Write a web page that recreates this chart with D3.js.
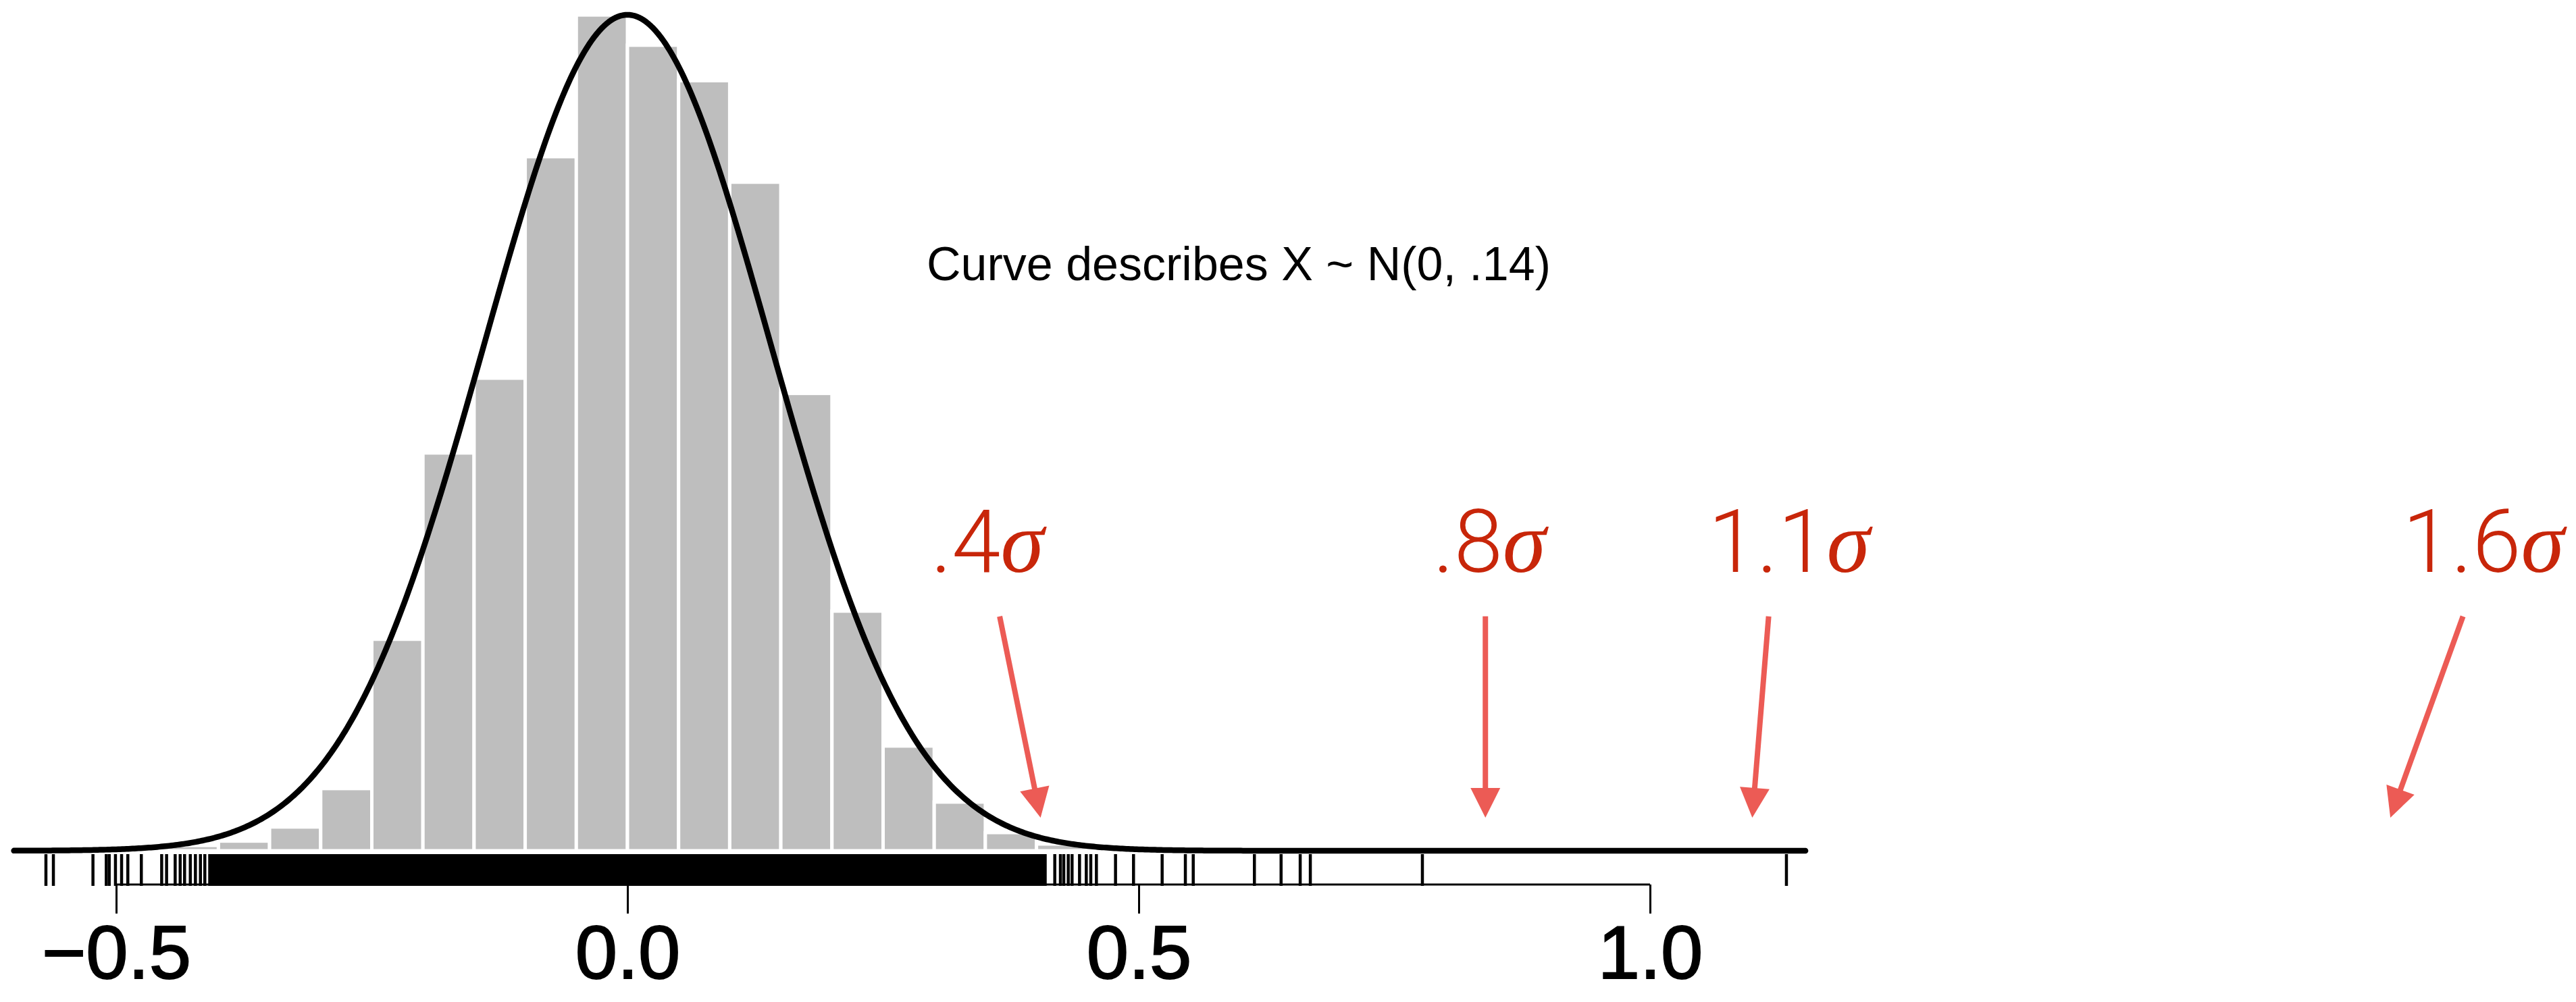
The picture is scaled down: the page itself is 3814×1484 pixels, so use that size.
<!DOCTYPE html>
<html>
<head>
<meta charset="utf-8">
<script src="https://cdn.jsdelivr.net/npm/d3@7"></script>
<style>
    body { margin: 0; background: #fff; }
    svg { display: block; }
</style>
</head>
<body>
<div id="chart" style="width:3814px;height:1484px"></div>
<script>

// histogram: left edge of each 0.05 bin and its density
const binStarts = [-0.45, -0.40, -0.35, -0.30, -0.25, -0.20, -0.15, -0.10, -0.05,
    0.00, 0.05, 0.10, 0.15, 0.20, 0.25, 0.30, 0.35, 0.40];
const binDensity = [0.018, 0.033, 0.081, 0.212, 0.721, 1.356, 1.611, 2.366, 2.849,
    2.746, 2.625, 2.279, 1.559, 0.817, 0.357, 0.166, 0.062, 0.023];
const binWidth = 0.05;

// rug: the middle is so dense it prints as one solid block
const rugCore = [-0.41, 0.41];
const rugTails = [-0.5687, -0.5614, -0.5227, -0.5097, -0.5068, -0.5007, -0.4947, -0.4886,
    -0.4754, -0.4555, -0.4507, -0.4423, -0.4374, -0.4331, -0.4275, -0.4225, -0.4176, -0.4133,
    0.4179, 0.4234, 0.4267, 0.4311, 0.4348, 0.4421, 0.4487, 0.4531, 0.4586, 0.4773, 0.4949,
    0.5229, 0.5456, 0.5533, 0.6131, 0.6392, 0.6579, 0.6678, 0.7774, 1.1334];

// reference curve X ~ N(0, .14), drawn over the plot range
const curveMean = 0;
const curveSd = 0.14;
const curveRange = [-0.60, 1.152];

const xTicks = [-0.5, 0.0, 0.5, 1.0];
const xTickLabels = ["\u22120.5", "0.0", "0.5", "1.0"];

// sigma annotations (x in data units, y in density units)
const sigmaLabels = [".4", ".8", "1.1", "1.6"];
const sigmaLabelX = [0.352, 0.843, 1.136, 1.815];
const arrowFromX = [0.364, 0.839, 1.116, 1.795];
const arrowToX = [0.404, 0.839, 1.100, 1.724];
const labelBaseY = 0.950;
const arrowFromY = 0.799;
const arrowToY = 0.113;

class DensityHist {

    constructor(parentElement) {
        this.parentElement = parentElement;
        this.initVis();
    }

    initVis() {
        let vis = this;

        vis.width = 3814;
        vis.height = 1484;

        vis.svg = d3.select("#" + vis.parentElement).append("svg")
            .attr("width", vis.width)
            .attr("height", vis.height);

        vis.x = d3.scaleLinear()
            .domain([-0.5, 1.0])
            .range([172, 2443]);

        vis.y = d3.scaleLinear()
            .domain([0, 2.9])
            .range([1260, 0]);

        vis.rugTop = vis.y(0) + 5;
        vis.rugBottom = vis.y(0) + 52;
        vis.axisY = vis.y(0) + 50;

        vis.wrangleData();
    }

    wrangleData() {
        let vis = this;

        vis.bins = binStarts.map((b, i) => ({x0: b, x1: b + binWidth, d: binDensity[i]}));

        let norm = 1 / (curveSd * Math.sqrt(2 * Math.PI));
        vis.curve = d3.range(curveRange[0], curveRange[1] + 0.001, 0.002).map(v => ({
            x: v,
            d: norm * Math.exp(-0.5 * Math.pow((v - curveMean) / curveSd, 2))
        }));

        vis.arrows = sigmaLabels.map((s, i) => ({
            label: s,
            lx: sigmaLabelX[i],
            x0: arrowFromX[i], y0: arrowFromY,
            x1: arrowToX[i], y1: arrowToY
        }));

        vis.updateVis();
    }

    updateVis() {
        let vis = this;

        // bars
        vis.svg.append("g").selectAll("rect")
            .data(vis.bins)
            .enter().append("rect")
            .attr("x", d => vis.x(d.x0))
            .attr("y", d => vis.y(d.d))
            .attr("width", d => vis.x(d.x1) - vis.x(d.x0))
            .attr("height", d => vis.y(0) - vis.y(d.d))
            .attr("fill", "#bebebe")
            .attr("stroke", "#fff")
            .attr("stroke-width", 5);

        // normal curve
        let line = d3.line()
            .x(d => vis.x(d.x))
            .y(d => vis.y(d.d))
            .curve(d3.curveLinear);

        vis.svg.append("path")
            .datum(vis.curve)
            .attr("d", line)
            .attr("fill", "none")
            .attr("stroke", "#000")
            .attr("stroke-width", 8.5)
            .attr("stroke-linecap", "round")
            .attr("stroke-linejoin", "round");

        // rug
        let rug = vis.svg.append("g");
        rug.append("rect")
            .attr("x", vis.x(rugCore[0]))
            .attr("y", vis.rugTop)
            .attr("width", vis.x(rugCore[1]) - vis.x(rugCore[0]))
            .attr("height", vis.rugBottom - vis.rugTop)
            .attr("fill", "#000");
        rug.selectAll("line")
            .data(rugTails)
            .enter().append("line")
            .attr("x1", d => vis.x(d))
            .attr("x2", d => vis.x(d))
            .attr("y1", vis.rugTop)
            .attr("y2", vis.rugBottom)
            .attr("stroke", "#000")
            .attr("stroke-width", 4.5);

        // x axis, R style: line only spans the ticks
        vis.xAxis = d3.axisBottom(vis.x)
            .tickValues(xTicks)
            .tickFormat((d, i) => xTickLabels[i])
            .tickSize(43)
            .tickSizeOuter(0)
            .tickPadding(16);

        vis.xGroup = vis.svg.append("g")
            .attr("class", "x-axis axis")
            .attr("transform", "translate(0," + vis.axisY + ")")
            .call(vis.xAxis);

        vis.xGroup.select(".domain")
            .attr("d", `M${vis.x(xTicks[0])},0H${vis.x(xTicks[xTicks.length - 1])}`)
            .attr("stroke", "#000")
            .attr("stroke-width", 3);
        vis.xGroup.selectAll(".tick line")
            .attr("stroke", "#000")
            .attr("stroke-width", 3);
        vis.xGroup.selectAll(".tick text")
            .attr("fill", "#000")
            .attr("stroke", "#000")
            .attr("stroke-width", 2)
            .attr("font-family", "'Liberation Sans', Arial, Helvetica, sans-serif")
            .attr("font-size", 112)
            .attr("dy", "0.71em");

        // caption
        vis.svg.append("text")
            .attr("x", 1372)
            .attr("y", 415)
            .attr("font-family", "'Liberation Sans', Arial, Helvetica, sans-serif")
            .attr("font-size", 70)
            .attr("fill", "#000")
            .text("Curve describes X ~ N(0, .14)");

        // sigma arrows
        let headLen = 44, headHalf = 22;
        let ann = vis.svg.append("g");

        vis.arrows.forEach(a => {
            let sx = vis.x(a.x0), sy = vis.y(a.y0);
            let tx = vis.x(a.x1), ty = vis.y(a.y1);
            let len = Math.hypot(tx - sx, ty - sy);
            let ux = (tx - sx) / len, uy = (ty - sy) / len;
            let bx = tx - ux * headLen, by = ty - uy * headLen;

            ann.append("line")
                .attr("x1", sx).attr("y1", sy)
                .attr("x2", bx + ux * 2).attr("y2", by + uy * 2)
                .attr("stroke", "#ec5b55")
                .attr("stroke-width", 8);

            ann.append("path")
                .attr("d", `M${tx},${ty}L${bx - uy * headHalf},${by + ux * headHalf}L${bx + uy * headHalf},${by - ux * headHalf}Z`)
                .attr("fill", "#ec5b55");

            let t = ann.append("text")
                .attr("x", vis.x(a.lx))
                .attr("y", vis.y(labelBaseY))
                .attr("text-anchor", "middle")
                .attr("fill", "#c8260a")
                .attr("font-family", "Roboto, 'Open Sans', sans-serif")
                .attr("font-weight", 300)
                .attr("font-size", 130);
            t.append("tspan").text(a.label);
            t.append("tspan")
                .attr("font-family", "'Liberation Serif', 'DejaVu Serif', serif")
                .attr("font-style", "italic")
                .attr("font-weight", 400)
                .text("\u03c3");
        });
    }
}

new DensityHist("chart");
</script>
</body>
</html>
